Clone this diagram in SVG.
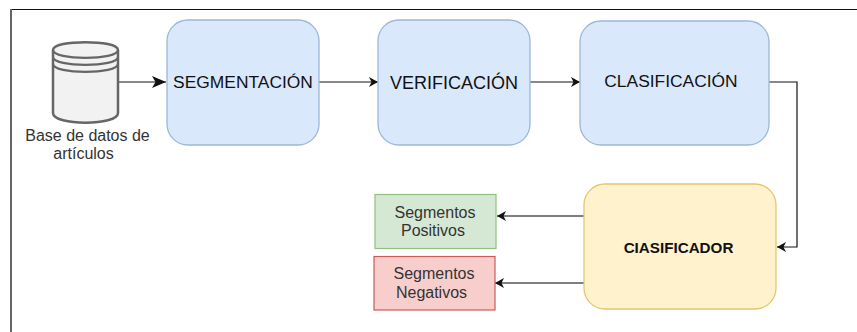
<svg xmlns="http://www.w3.org/2000/svg" width="857" height="332" viewBox="0 0 857 332">
<style>
text{font-family:"Liberation Sans",Arial,sans-serif;text-anchor:middle}
.t{font-size:17.400px;fill:#111}
.s{font-size:16px;fill:#333}
.b{fill:#dae8fc;stroke:#9db6d9;stroke-width:1.300}
.c{fill:none;stroke:#111;stroke-width:1.200}
.g{fill:none;stroke:#555;stroke-width:1.400}
</style>
<defs>
<marker id="a" markerUnits="userSpaceOnUse" markerWidth="12" markerHeight="12" refX="9" refY="5" orient="auto"><path d="M0 0L9 5L0 10L2.500 5Z" fill="#111"/></marker>
<marker id="l" markerUnits="userSpaceOnUse" markerWidth="18" markerHeight="14" refX="14" refY="6" orient="auto"><path d="M0 0L14 6L0 12L3.500 6Z" fill="#111"/></marker>
</defs>
<g id="frame"><path d="M11.500 9.500H857" stroke="#111" stroke-width="1"/><path d="M11 9V332" stroke="#666" stroke-width="2"/></g>
<g id="connectors">
<path class="c" d="M119 82H166" marker-end="url(#l)"/>
<path class="c" d="M319 82H378" marker-end="url(#a)"/>
<path class="c" d="M530 82H580" marker-end="url(#a)"/>
<path class="c" d="M769 82H797V247H777" marker-end="url(#a)"/>
<path class="g" d="M584 216H497" marker-end="url(#a)"/>
<path class="g" d="M584 283H495" marker-end="url(#a)"/>
</g>
<g id="database">
<path d="M53 50C53 39.500 118 39.500 118 50V113C118 126 53 126 53 113Z" fill="#f2f2f2" stroke="#666" stroke-width="2.500"/>
<path d="M53 50C53 60.500 118 60.500 118 50M53 57C53 67.500 118 67.500 118 57M53 64C53 74.500 118 74.500 118 64" fill="none" stroke="#666" stroke-width="2.200"/>
<text class="s" x="87.500" y="141">Base de datos de</text>
<text class="s" x="83.500" y="159">artículos</text>
</g>
<g id="segmentacion"><rect class="b" x="167" y="20" width="152" height="125" rx="21"/><text class="t" x="243" y="88">SEGMENTACIÓN</text></g>
<g id="verificacion"><rect class="b" x="378" y="20" width="152" height="125" rx="21"/><text class="t" x="454" y="89" style="font-size:18px">VERIFICACIÓN</text></g>
<g id="clasificacion"><rect class="b" x="580" y="21" width="189" height="124" rx="21"/><text class="t" x="671" y="87">CLASIFICACIÓN</text></g>
<g id="clasificador"><rect x="584" y="184" width="192" height="125" rx="21" fill="#fff2cc" stroke="#e6c56e" stroke-width="1.300"/><text x="678.500" y="253" font-size="15.200" font-weight="700" fill="#111">CIASIFICADOR</text></g>
<g id="positivos"><rect x="375" y="194.500" width="121" height="54" fill="#d5e8d4" stroke="#8fc07f" stroke-width="1.200"/><text class="s" x="435" y="218">Segmentos</text><text class="s" x="433" y="236">Positivos</text></g>
<g id="negativos"><rect x="374" y="256.500" width="121" height="53.500" fill="#f8cecc" stroke="#c95b58" stroke-width="1.200"/><text class="s" x="434" y="279">Segmentos</text><text class="s" x="431.500" y="298">Negativos</text></g>
</svg>
